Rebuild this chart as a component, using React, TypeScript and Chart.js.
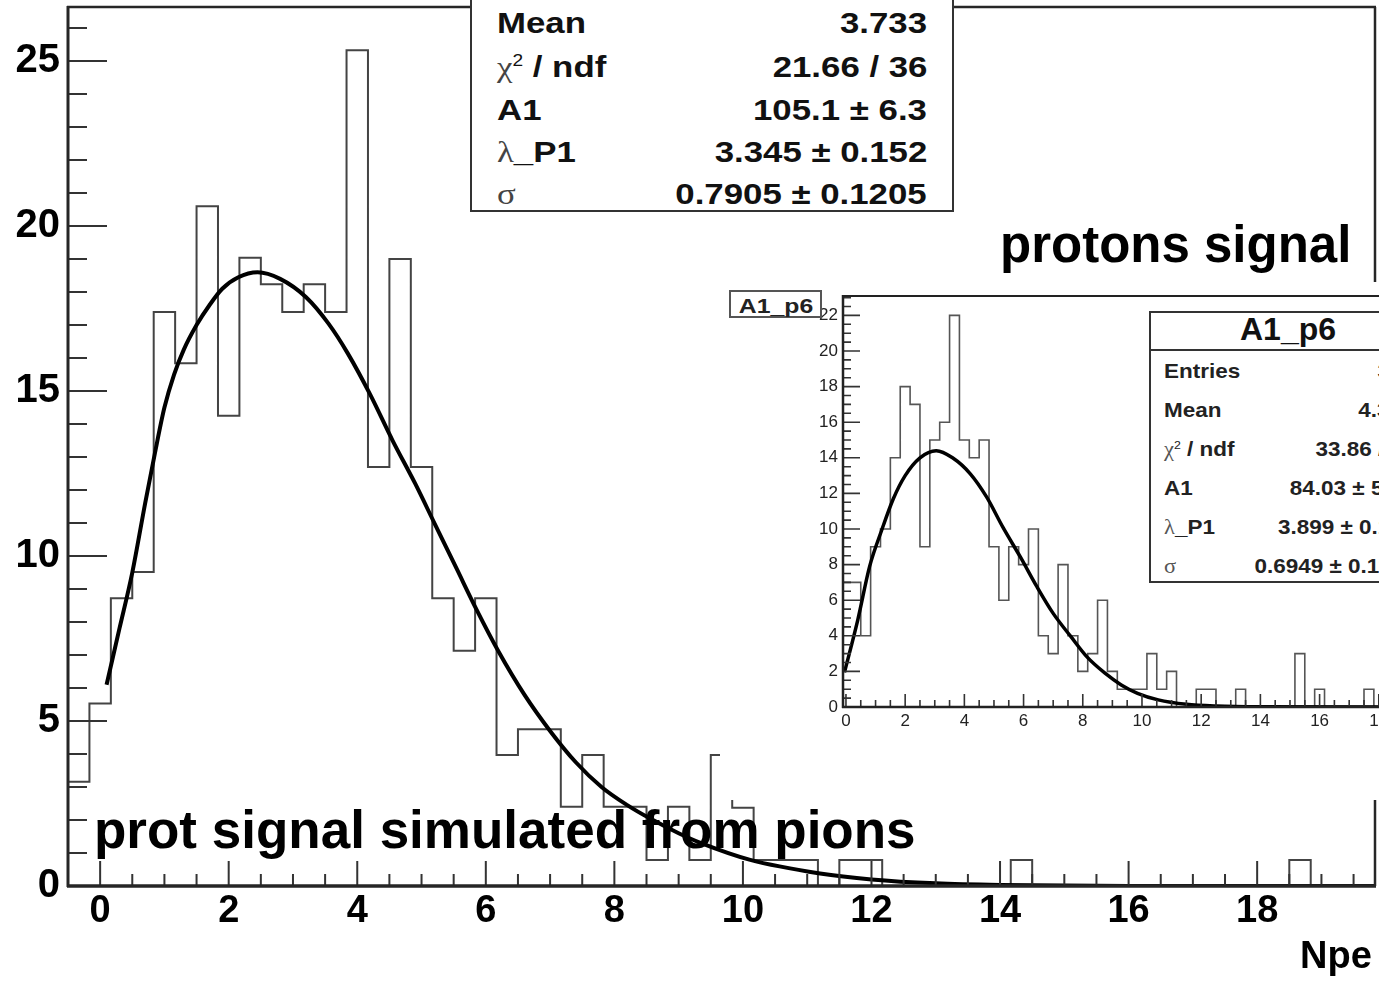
import React, { useEffect, useRef } from "react";
import { Chart, registerables } from "chart.js";

Chart.register(...registerables);

const VIEW_W = 1379;
const VIEW_H = 981;
const SANS = "'Liberation Sans', Arial, Helvetica, sans-serif";
const SERIF = "'Liberation Serif', 'Times New Roman', serif";

// ---- main pad: proton signal simulated from pions (Npe), bins of 1/3 from -0.5 ----
const mainBinStart = -0.5;
const mainBinWidth = 1 / 3;
const mainCounts = [
  3.16, 5.53, 8.72, 9.52, 17.4, 15.84, 20.6, 14.25, 19.04, 18.24,
  17.4, 18.24, 17.4, 25.33, 12.7, 19.0, 12.7, 8.72, 7.13, 8.72,
  3.97, 4.75, 4.75, 2.4, 3.97, 2.4, 2.4, 0.79, 2.4, 0.79,
  3.97, 2.37, 0.79, 0.79, 0.79, 0, 0.79, 0.79, 0, 0,
  0, 0, 0, 0, 0.79, 0, 0, 0, 0, 0,
  0, 0, 0, 0, 0, 0, 0, 0.79, 0, 0,
  0,
];
const mainFitX = [
  0.1, 0.3, 0.5, 0.7, 0.85, 1.0, 1.15, 1.3, 1.5, 1.7, 1.9, 2.15, 2.45, 2.8, 3.2,
  3.55, 3.85, 4.2, 4.55, 4.9, 5.2, 5.55, 5.85, 6.2, 6.6, 7.0, 7.4, 7.8, 8.2, 8.55,
  9.0, 9.35, 10.1, 11.2, 12.0, 13.0, 14.0, 16.0, 19.83,
];
const mainFitY = [
  6.1, 7.8, 9.5, 11.6, 13.1, 14.5, 15.5, 16.25, 17.0, 17.6, 18.1, 18.45, 18.6, 18.4, 17.85,
  17.05, 16.15, 14.9, 13.5, 12.2, 11.0, 9.6, 8.4, 7.1, 5.8, 4.7, 3.75, 3.0, 2.45, 2.05,
  1.6, 1.3, 0.8, 0.38, 0.2, 0.08, 0.03, 0.0, 0.0,
];
const mainXTicks = [0, 2, 4, 6, 8, 10, 12, 14, 16, 18];
const mainYTicks = [0, 5, 10, 15, 20, 25];

// ---- inset pad: A1_p6 ----
const insetBinStart = -0.5;
const insetBinWidth = 1 / 3;
const insetCounts = [
  0, 7, 7, 4, 9, 10, 14, 18, 17, 9,
  15, 16, 22, 15, 14, 15, 9, 6, 9, 8,
  10, 4, 3, 8, 4, 2, 3, 6, 2, 1,
  1, 1, 3, 1, 2, 0, 0, 1, 1, 0,
  0, 1, 0, 0, 0, 0, 0, 3, 0, 1,
  0, 0, 0, 0, 1, 0, 0, 0, 0, 0,
  0, 0,
];
const insetFitX = [
  -0.05, 0.4, 0.8, 1.2, 1.6, 2.0, 2.5, 3.05, 3.6, 4.2, 4.75, 5.3, 5.9, 6.45, 7.0,
  7.6, 8.15, 8.75, 9.3, 9.85, 10.55, 11.5, 12.5, 14.0, 20.0,
];
const insetFitY = [
  1.95, 4.9, 7.9, 9.9, 11.7, 13.0, 14.0, 14.4, 14.0, 13.1, 11.8, 10.1, 8.4, 6.76, 5.26,
  3.95, 2.8, 1.9, 1.24, 0.77, 0.4, 0.15, 0.05, 0.01, 0.0,
];
const insetXTicks = [0, 2, 4, 6, 8, 10, 12, 14, 16, 18, 20];
const insetYTicks = [0, 2, 4, 6, 8, 10, 12, 14, 16, 18, 20, 22];

// ---- statistics boxes ----
const mainStatNames = ["Mean", "χ² / ndf", "A1", "λ_P1", "σ"];
const mainStatValues = ["3.733", "21.66 / 36", "105.1 ± 6.3", "3.345 ± 0.152", "0.7905 ± 0.1205"];
const insetTitle = "A1_p6";
const insetStatNames = ["Entries", "Mean", "χ² / ndf", "A1", "λ_P1", "σ"];
const insetStatValues = ["316", "4.318", "33.86 / 51", "84.03 ± 5.41", "3.899 ± 0.174", "0.6949 ± 0.1173"];

function histPoints(start: number, width: number, counts: number[]) {
  const pts = counts.map((c, i) => ({ x: start + i * width, y: c }));
  pts.push({ x: start + counts.length * width, y: counts[counts.length - 1] });
  return pts;
}

// ROOT-style frame with inward ticks, drawn through the chart's scales
const rootFrame = {
  id: "rootFrame",
  afterDatasetsDraw(chart: any, _args: any, o: any) {
    const { ctx, chartArea: a } = chart;
    const xs = chart.scales.x;
    const ys = chart.scales.y;
    const eps = 1e-6;
    ctx.save();
    ctx.lineCap = "butt";
    ctx.strokeStyle = o.tickColor;
    ctx.lineWidth = o.tickWidth;
    ctx.beginPath();
    for (let i = Math.ceil((xs.min - eps) / o.xMinor); i * o.xMinor <= xs.max + eps; i++) {
      const v = i * o.xMinor;
      const major = Math.abs(v / o.xMajor - Math.round(v / o.xMajor)) < eps;
      const px = xs.getPixelForValue(v);
      ctx.moveTo(px, a.bottom);
      ctx.lineTo(px, a.bottom - (major ? o.xMajorLen : o.xMinorLen));
    }
    for (let i = Math.ceil((ys.min - eps) / o.yMinor); i * o.yMinor <= ys.max + eps; i++) {
      const v = i * o.yMinor;
      const major = Math.abs(v / o.yMajor - Math.round(v / o.yMajor)) < eps;
      const py = ys.getPixelForValue(v);
      ctx.moveTo(a.left, py);
      ctx.lineTo(a.left + (major ? o.yMajorLen : o.yMinorLen), py);
    }
    ctx.stroke();
    ctx.strokeStyle = o.frameColor;
    const seg = (x1: number, y1: number, x2: number, y2: number, w: number) => {
      ctx.lineWidth = w;
      ctx.beginPath();
      ctx.moveTo(x1, y1);
      ctx.lineTo(x2, y2);
      ctx.stroke();
    };
    seg(a.left - 1, a.top, a.right + 1, a.top, o.topWidth);
    seg(a.right, a.top, a.right, a.bottom, o.rightWidth);
    seg(a.left, a.top - 1, a.left, a.bottom + 1, o.leftWidth);
    seg(a.left - 1, a.bottom, a.right + 1, a.bottom, o.bottomWidth);
    ctx.restore();
  },
};

function buildConfig(p: any) {
  return {
    type: "line",
    data: {
      datasets: [
        {
          label: "fit",
          data: p.fitX.map((x: number, i: number) => ({ x, y: p.fitY[i] })),
          borderColor: "#000",
          borderWidth: p.fitWidth,
          pointRadius: 0,
          fill: false,
          cubicInterpolationMode: "monotone",
          tension: 0.4,
          order: 0,
        },
        {
          label: "hist",
          data: histPoints(p.binStart, p.binWidth, p.counts),
          borderColor: p.histColor,
          borderWidth: p.histWidth,
          pointRadius: 0,
          fill: false,
          stepped: "before",
          order: 1,
        },
      ],
    },
    options: {
      responsive: false,
      animation: false,
      devicePixelRatio: 1,
      events: [],
      layout: { padding: { left: 0, top: p.padTop, right: p.padRight, bottom: 0 } },
      plugins: {
        legend: { display: false },
        tooltip: { enabled: false },
        rootFrame: p.frame,
      },
      scales: {
        x: {
          type: "linear",
          min: p.xMin,
          max: p.xMax,
          afterBuildTicks: (s: any) => {
            s.ticks = p.xTicks.map((v: number) => ({ value: v }));
          },
          afterFit: (s: any) => {
            s.height = p.xAxisHeight;
            s.paddingLeft = 0;
            s.paddingRight = 0;
            s.paddingTop = 0;
            s.paddingBottom = 0;
          },
          grid: { display: false, drawTicks: false },
          border: { display: false },
          ticks: {
            autoSkip: false,
            maxRotation: 0,
            minRotation: 0,
            padding: p.xLabelPad,
            color: p.labelColor,
            font: { family: SANS, size: p.xLabelSize, weight: p.labelWeight },
            callback: (v: any) => String(v),
          },
        },
        y: {
          type: "linear",
          min: 0,
          max: p.yMax,
          afterBuildTicks: (s: any) => {
            s.ticks = p.yTicks.map((v: number) => ({ value: v }));
          },
          afterFit: (s: any) => {
            s.width = p.yAxisWidth;
            s.paddingLeft = 0;
            s.paddingRight = 0;
            s.paddingTop = 0;
            s.paddingBottom = 0;
          },
          grid: { display: false, drawTicks: false },
          border: { display: false },
          ticks: {
            autoSkip: false,
            padding: p.yLabelPad,
            color: p.labelColor,
            font: { family: SANS, size: p.yLabelSize, weight: p.labelWeight },
            callback: (v: any) => String(v),
          },
        },
      },
    },
    plugins: [rootFrame],
  };
}

const mainPanel = {
  left: 0,
  top: 0,
  width: 1400,
  height: VIEW_H,
  background: "transparent",
  binStart: mainBinStart,
  binWidth: mainBinWidth,
  counts: mainCounts,
  fitX: mainFitX,
  fitY: mainFitY,
  xTicks: mainXTicks,
  yTicks: mainYTicks,
  xMin: -0.5,
  xMax: 19.8333,
  yMax: 26.64,
  padTop: 7,
  padRight: 25,
  yAxisWidth: 68,
  xAxisHeight: 95,
  xLabelPad: 3,
  yLabelPad: 8,
  xLabelSize: 38,
  yLabelSize: 40,
  labelWeight: "bold",
  labelColor: "#000",
  histColor: "#444",
  histWidth: 2,
  fitWidth: 4,
  frame: {
    tickColor: "#333",
    tickWidth: 2,
    frameColor: "#262626",
    xMajor: 2,
    xMinor: 0.5,
    xMajorLen: 25,
    xMinorLen: 12,
    yMajor: 5,
    yMinor: 1,
    yMajorLen: 39,
    yMinorLen: 19,
    topWidth: 2.5,
    rightWidth: 2.5,
    leftWidth: 3,
    bottomWidth: 3.5,
  },
};

const insetPanel = {
  left: 720,
  top: 282,
  width: 740,
  height: 518,
  background: "#fff",
  binStart: insetBinStart,
  binWidth: insetBinWidth,
  counts: insetCounts,
  fitX: insetFitX,
  fitY: insetFitY,
  xTicks: insetXTicks,
  yTicks: insetYTicks,
  xMin: -0.1,
  xMax: 20,
  yMax: 23.09,
  padTop: 14,
  padRight: 22,
  yAxisWidth: 123,
  xAxisHeight: 93,
  xLabelPad: 4,
  yLabelPad: 5,
  xLabelSize: 17,
  yLabelSize: 17,
  labelWeight: "normal",
  labelColor: "#222",
  histColor: "#555",
  histWidth: 1.6,
  fitWidth: 3.5,
  frame: {
    tickColor: "#333",
    tickWidth: 1.6,
    frameColor: "#222",
    xMajor: 2,
    xMinor: 0.5,
    xMajorLen: 13,
    xMinorLen: 7,
    yMajor: 2,
    yMinor: 0.5,
    yMajorLen: 17,
    yMinorLen: 8,
    topWidth: 2,
    rightWidth: 2,
    leftWidth: 2.5,
    bottomWidth: 2.5,
  },
};

function HistPanel({ spec }: { spec: any }) {
  const ref = useRef<HTMLCanvasElement>(null);
  useEffect(() => {
    const chart = new Chart(ref.current as HTMLCanvasElement, buildConfig(spec) as any);
    return () => chart.destroy();
  }, [spec]);
  return (
    <canvas
      ref={ref}
      width={spec.width}
      height={spec.height}
      style={{
        position: "absolute",
        left: spec.left,
        top: spec.top,
        width: spec.width,
        height: spec.height,
        background: spec.background,
      }}
    />
  );
}

function Txt(props: {
  x: number;
  baseline: number;
  size: number;
  align?: "left" | "right" | "center";
  weight?: string;
  color?: string;
  stretch?: number;
  children: any;
}) {
  const { x, baseline, size, align = "left", weight = "bold", color = "#000", stretch = 1, children } = props;
  const style: any = {
    position: "absolute",
    top: baseline - 0.8465 * size,
    fontFamily: SANS,
    fontSize: size,
    fontWeight: weight,
    color,
    lineHeight: 1,
    whiteSpace: "nowrap",
  };
  if (align === "left") {
    style.left = x;
    style.transform = `scaleX(${stretch})`;
    style.transformOrigin = "left top";
  } else if (align === "right") {
    style.right = VIEW_W - x;
    style.transform = `scaleX(${stretch})`;
    style.transformOrigin = "right top";
  } else {
    style.left = x;
    style.transform = `translateX(-50%) scaleX(${stretch})`;
    style.transformOrigin = "center top";
  }
  return <div style={style}>{children}</div>;
}

function StatName({ name, greek }: { name: string; greek: string }) {
  const g = { fontFamily: SERIF, fontWeight: "normal", color: greek };
  if (name[0] === "χ") {
    return (
      <>
        <span style={g}>χ</span>
        <span style={{ fontSize: "0.55em", fontWeight: "normal", position: "relative", top: "-0.65em" }}>2</span>
        {name.slice(2)}
      </>
    );
  }
  if (name[0] === "λ" || name[0] === "σ") {
    return (
      <>
        <span style={g}>{name[0]}</span>
        {name.slice(1)}
      </>
    );
  }
  return <>{name}</>;
}

const mainRowBaselines = [33, 77, 120, 162, 204];
const insetRowBaselines = [378, 417, 456, 495, 534, 573];

export default function App() {
  return (
    <div
      style={{
        position: "fixed",
        left: 0,
        top: 0,
        width: VIEW_W,
        height: VIEW_H,
        overflow: "hidden",
        background: "#fff",
      }}
    >
      <HistPanel spec={mainPanel} />

      <Txt x={1000} baseline={262} size={51}>protons signal</Txt>
      <Txt x={94} baseline={848} size={53}>prot signal simulated from pions</Txt>
      <Txt x={1300} baseline={968} size={38}>Npe</Txt>

      {/* statistics box of the main fit */}
      <div
        style={{
          position: "absolute",
          left: 470,
          top: -10,
          width: 484,
          height: 222,
          boxSizing: "border-box",
          border: "2px solid #333",
          background: "#fff",
        }}
      />
      {mainStatNames.map((n, i) => (
        <Txt key={"mn" + i} x={497} baseline={mainRowBaselines[i]} size={30} stretch={1.16} color="#111">
          <StatName name={n} greek="#444" />
        </Txt>
      ))}
      {mainStatValues.map((v, i) => (
        <Txt key={"mv" + i} x={927} baseline={mainRowBaselines[i]} size={30} stretch={1.16} align="right" color="#111">
          {v}
        </Txt>
      ))}

      <HistPanel spec={insetPanel} />

      {/* inset title box */}
      <div
        style={{
          position: "absolute",
          left: 729,
          top: 290,
          width: 93,
          height: 28,
          boxSizing: "border-box",
          border: "2px solid #555",
          background: "#fff",
        }}
      />
      <Txt x={775.5} baseline={313} size={21} stretch={1.18} align="center" color="#222">
        {insetTitle}
      </Txt>

      {/* inset statistics box */}
      <div
        style={{
          position: "absolute",
          left: 1149,
          top: 311,
          width: 277,
          height: 272,
          boxSizing: "border-box",
          border: "2px solid #333",
          background: "#fff",
        }}
      />
      <div style={{ position: "absolute", left: 1149, top: 349, width: 277, height: 2, background: "#333" }} />
      <Txt x={1288} baseline={340} size={32} align="center" color="#111">
        {insetTitle}
      </Txt>
      {insetStatNames.map((n, i) => (
        <Txt key={"in" + i} x={1164} baseline={insetRowBaselines[i]} size={21} stretch={1.07} color="#222">
          <StatName name={n} greek="#555" />
        </Txt>
      ))}
      {insetStatValues.map((v, i) => (
        <Txt key={"iv" + i} x={1415} baseline={insetRowBaselines[i]} size={21} stretch={1.07} align="right" color="#222">
          {v}
        </Txt>
      ))}
    </div>
  );
}
